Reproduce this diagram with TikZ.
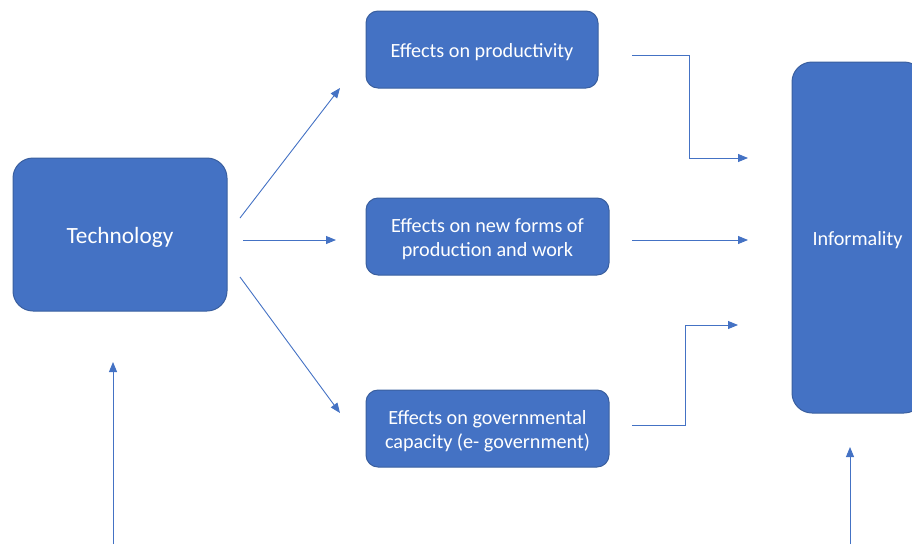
\documentclass[tikz,border=0pt]{standalone}
\usepackage{fontspec}
\setmainfont{Carlito}
\usetikzlibrary{arrows.meta}
\definecolor{boxfill}{HTML}{4472C4}
\definecolor{boxline}{HTML}{3A5F9F}
\definecolor{arrowc}{HTML}{4472C4}
\tikzset{
  bluebox/.style={draw=boxline, line width=1pt, fill=boxfill, inner sep=0pt},
  txt/.style={text=white, align=center, inner sep=0pt, yshift=-2.5pt, font=\fontsize{20.2}{24}\selectfont},
  conn/.style={draw=arrowc, line width=0.9pt, -{Triangle[length=10pt,width=8pt]}},
}
\begin{document}
\begin{tikzpicture}[x=1pt,y=-1pt]
\useasboundingbox (0,0) rectangle (912,544);
\node[bluebox, rounded corners=20pt, minimum width=214pt, minimum height=153pt,
  label={[txt, font=\fontsize{23.3}{27}\selectfont]center:Technology}] (tech) at (120,234.5) {};
\node[bluebox, rounded corners=12pt, minimum width=232pt, minimum height=77pt,
  label={[txt]center:Effects on productivity}] (prod) at (482,49.5) {};
\node[bluebox, rounded corners=12pt, minimum width=243pt, minimum height=77pt,
  label={[txt]center:{Effects on new forms of\\production and work}}] (newf) at (487.5,236.5) {};
\node[bluebox, rounded corners=12pt, minimum width=243pt, minimum height=77pt,
  label={[txt]center:{Effects on governmental\\capacity (e- government)}}] (gov) at (487.5,428.5) {};
\node[bluebox, rounded corners=20pt, minimum width=132pt, minimum height=351pt,
  label={[txt, xshift=-0.5pt]center:Informality}] (inf) at (858,237.5) {};

\coordinate (t1) at (240,218);
\coordinate (p1) at (340,88);
\coordinate (t2) at (243,240);
\coordinate (n1) at (336,240);
\coordinate (t3) at (240,277);
\coordinate (g1) at (340,413);
\coordinate (pa) at (632,55);
\coordinate (pb) at (748,158);
\coordinate (na) at (632,240);
\coordinate (nb) at (748,240);
\coordinate (ga) at (632,425);
\coordinate (gb) at (738,325);
\coordinate (tb) at (113,544);
\coordinate (tt) at (113,362);
\coordinate (ib) at (850,544);
\coordinate (it) at (850,447);

\draw[conn] (t1) -- (p1);
\draw[conn] (t2) -- (n1);
\draw[conn] (t3) -- (g1);
\draw[conn] (pa) -- (689,55) |- (pb);
\draw[conn] (na) -- (nb);
\draw[conn] (ga) -- (685,425) |- (gb);
\draw[conn] (tb) -- (tt);
\draw[conn] (ib) -- (it);
\end{tikzpicture}
\end{document}
